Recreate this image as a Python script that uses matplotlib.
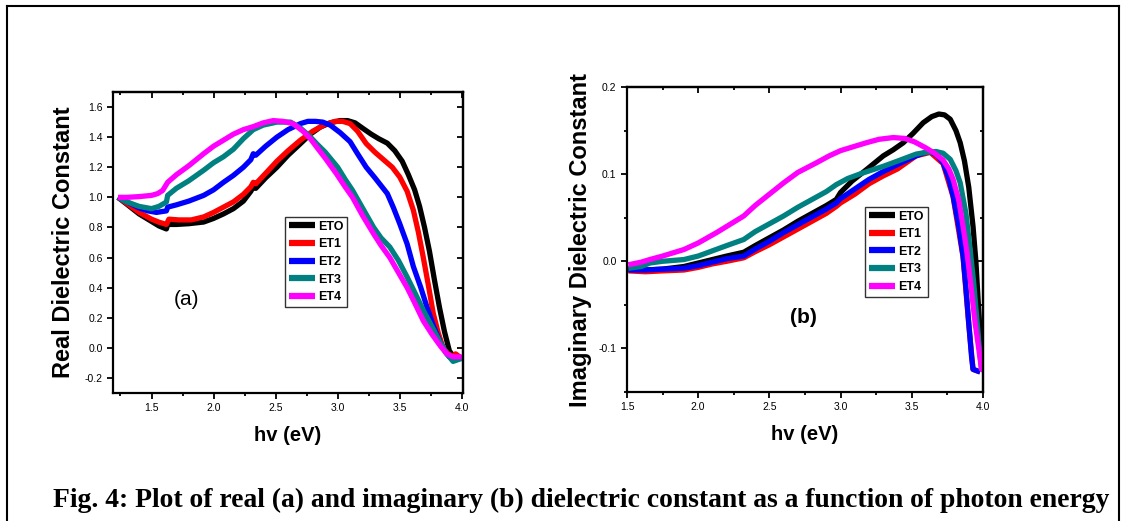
import matplotlib
matplotlib.use('Agg')
import matplotlib.pyplot as plt
from matplotlib.lines import Line2D
from matplotlib.ticker import MultipleLocator

plt.rcParams['font.family'] = ['Liberation Sans', 'DejaVu Sans']

# ---- Panel (a): real dielectric constant ----
eto_a_x = [1.23, 1.30, 1.40, 1.50, 1.56, 1.62, 1.63, 1.70, 1.80, 1.92, 2.00, 2.08, 2.16, 2.24, 2.30, 2.32, 2.34, 2.42, 2.51, 2.60, 2.70, 2.78, 2.86, 2.94, 3.02, 3.08, 3.14, 3.20, 3.27, 3.33, 3.40, 3.46, 3.52, 3.57, 3.62, 3.66, 3.70, 3.74, 3.78, 3.82, 3.86, 3.90, 3.945, 4.0]
eto_a_y = [1.00, 0.955, 0.89, 0.84, 0.81, 0.79, 0.82, 0.82, 0.825, 0.836, 0.86, 0.89, 0.925, 0.975, 1.04, 1.07, 1.06, 1.13, 1.20, 1.28, 1.357, 1.42, 1.467, 1.495, 1.51, 1.51, 1.495, 1.46, 1.42, 1.39, 1.36, 1.31, 1.24, 1.15, 1.05, 0.94, 0.80, 0.64, 0.45, 0.27, 0.11, -0.02, -0.07, -0.07]

et1_a_x = [1.23, 1.30, 1.40, 1.50, 1.56, 1.62, 1.64, 1.72, 1.82, 1.92, 2.00, 2.08, 2.16, 2.24, 2.30, 2.32, 2.34, 2.42, 2.51, 2.60, 2.70, 2.80, 2.90, 2.98, 3.04, 3.10, 3.16, 3.23, 3.30, 3.37, 3.44, 3.50, 3.56, 3.61, 3.65, 3.69, 3.73, 3.77, 3.81, 3.85, 3.89, 3.93, 3.95, 4.0]
et1_a_y = [1.00, 0.96, 0.90, 0.855, 0.835, 0.82, 0.855, 0.85, 0.85, 0.87, 0.90, 0.935, 0.97, 1.02, 1.07, 1.10, 1.09, 1.16, 1.24, 1.31, 1.38, 1.44, 1.485, 1.505, 1.505, 1.49, 1.44, 1.357, 1.30, 1.25, 1.20, 1.135, 1.04, 0.914, 0.77, 0.60, 0.42, 0.23, 0.10, 0.0, -0.04, -0.06, -0.04, -0.07]

et2_a_x = [1.23, 1.30, 1.40, 1.47, 1.54, 1.58, 1.62, 1.63, 1.70, 1.80, 1.92, 2.00, 2.08, 2.16, 2.24, 2.30, 2.32, 2.34, 2.42, 2.51, 2.60, 2.70, 2.76, 2.82, 2.88, 2.94, 3.02, 3.10, 3.16, 3.23, 3.30, 3.40, 3.45, 3.50, 3.56, 3.61, 3.67, 3.72, 3.77, 3.83, 3.87, 3.90, 3.95, 4.0]
et2_a_y = [1.00, 0.97, 0.93, 0.91, 0.90, 0.905, 0.91, 0.935, 0.95, 0.975, 1.013, 1.05, 1.10, 1.146, 1.20, 1.25, 1.29, 1.28, 1.34, 1.40, 1.45, 1.49, 1.505, 1.505, 1.50, 1.48, 1.43, 1.37, 1.29, 1.20, 1.13, 1.025, 0.93, 0.825, 0.69, 0.54, 0.40, 0.27, 0.15, 0.03, -0.03, -0.06, -0.07, -0.07]

et3_a_x = [1.23, 1.30, 1.40, 1.50, 1.56, 1.62, 1.63, 1.70, 1.80, 1.92, 2.00, 2.08, 2.16, 2.24, 2.32, 2.40, 2.51, 2.62, 2.70, 2.77, 2.83, 2.90, 3.00, 3.06, 3.12, 3.20, 3.29, 3.35, 3.42, 3.49, 3.56, 3.62, 3.69, 3.76, 3.83, 3.88, 3.93, 4.0]
et3_a_y = [1.00, 0.97, 0.94, 0.925, 0.94, 0.969, 1.013, 1.06, 1.11, 1.18, 1.23, 1.27, 1.32, 1.39, 1.45, 1.48, 1.50, 1.50, 1.46, 1.41, 1.357, 1.30, 1.20, 1.12, 1.046, 0.93, 0.80, 0.73, 0.67, 0.58, 0.47, 0.37, 0.25, 0.14, 0.03, -0.04, -0.09, -0.07]

et4_a_x = [1.23, 1.30, 1.40, 1.50, 1.55, 1.59, 1.63, 1.70, 1.80, 1.92, 2.00, 2.08, 2.16, 2.24, 2.32, 2.40, 2.48, 2.56, 2.64, 2.72, 2.78, 2.83, 2.90, 2.99, 3.06, 3.12, 3.20, 3.29, 3.35, 3.42, 3.49, 3.56, 3.62, 3.69, 3.76, 3.83, 3.88, 3.93, 4.0]
et4_a_y = [1.00, 1.00, 1.005, 1.013, 1.025, 1.046, 1.10, 1.15, 1.21, 1.29, 1.34, 1.38, 1.42, 1.45, 1.47, 1.495, 1.51, 1.505, 1.49, 1.44, 1.39, 1.335, 1.26, 1.157, 1.07, 1.00, 0.88, 0.757, 0.68, 0.60, 0.50, 0.40, 0.30, 0.18, 0.09, 0.01, -0.04, -0.06, -0.06]

# ---- Panel (b): imaginary dielectric constant ----
eto_b_x = [1.51, 1.63, 1.75, 1.90, 2.00, 2.10, 2.20, 2.32, 2.40, 2.50, 2.60, 2.70, 2.80, 2.90, 2.97, 3.00, 3.08, 3.18, 3.30, 3.37, 3.44, 3.51, 3.58, 3.64, 3.69, 3.73, 3.77, 3.81, 3.84, 3.87, 3.90, 3.93, 3.95, 3.967, 3.99, 4.0]
eto_b_y = [-0.0095, -0.010, -0.009, -0.006, -0.002, 0.002, 0.006, 0.0104, 0.018, 0.027, 0.036, 0.046, 0.055, 0.064, 0.071, 0.079, 0.092, 0.105, 0.121, 0.128, 0.136, 0.147, 0.159, 0.166, 0.169, 0.168, 0.163, 0.150, 0.136, 0.115, 0.085, 0.040, 0.0, -0.048, -0.109, -0.125]

et1_b_x = [1.51, 1.63, 1.75, 1.90, 2.00, 2.10, 2.20, 2.32, 2.40, 2.50, 2.60, 2.70, 2.80, 2.90, 2.97, 3.00, 3.10, 3.20, 3.30, 3.40, 3.53, 3.58, 3.63, 3.72, 3.79, 3.86, 3.90, 3.93, 3.98]
et1_b_y = [-0.011, -0.012, -0.011, -0.010, -0.007, -0.003, 0.0, 0.004, 0.011, 0.019, 0.028, 0.037, 0.046, 0.055, 0.063, 0.067, 0.077, 0.089, 0.098, 0.106, 0.121, 0.123, 0.125, 0.112, 0.074, 0.005, -0.072, -0.124, -0.127]

et2_b_x = [1.51, 1.63, 1.75, 1.90, 2.00, 2.10, 2.20, 2.32, 2.40, 2.50, 2.60, 2.70, 2.80, 2.90, 2.97, 3.00, 3.10, 3.20, 3.30, 3.40, 3.53, 3.58, 3.63, 3.68, 3.72, 3.76, 3.79, 3.83, 3.86, 3.88, 3.90, 3.92, 3.93, 3.98]
et2_b_y = [-0.010, -0.010, -0.009, -0.008, -0.005, -0.001, 0.003, 0.006, 0.014, 0.023, 0.033, 0.042, 0.051, 0.060, 0.067, 0.072, 0.083, 0.094, 0.103, 0.111, 0.121, 0.124, 0.126, 0.121, 0.113, 0.095, 0.075, 0.040, 0.006, -0.030, -0.071, -0.110, -0.124, -0.127]

et3_b_x = [1.51, 1.60, 1.66, 1.75, 1.90, 2.00, 2.10, 2.20, 2.32, 2.40, 2.50, 2.60, 2.70, 2.80, 2.90, 2.97, 3.05, 3.15, 3.30, 3.40, 3.53, 3.60, 3.67, 3.72, 3.77, 3.81, 3.84, 3.88, 3.91, 3.935, 3.955, 3.975, 3.99]
et3_b_y = [-0.008, -0.006, -0.002, 0.0, 0.002, 0.006, 0.012, 0.018, 0.025, 0.034, 0.043, 0.052, 0.062, 0.071, 0.080, 0.088, 0.095, 0.101, 0.109, 0.115, 0.123, 0.125, 0.126, 0.124, 0.117, 0.104, 0.090, 0.055, 0.013, -0.025, -0.063, -0.100, -0.125]

et4_b_x = [1.51, 1.60, 1.66, 1.75, 1.90, 2.00, 2.13, 2.22, 2.32, 2.40, 2.50, 2.60, 2.70, 2.83, 2.92, 3.00, 3.10, 3.18, 3.27, 3.37, 3.45, 3.52, 3.60, 3.66, 3.72, 3.76, 3.79, 3.83, 3.86, 3.885, 3.91, 3.945, 3.97, 3.99, 4.0]
et4_b_y = [-0.004, -0.001, 0.002, 0.006, 0.0135, 0.021, 0.033, 0.042, 0.052, 0.064, 0.077, 0.090, 0.102, 0.113, 0.121, 0.127, 0.132, 0.136, 0.140, 0.142, 0.141, 0.137, 0.130, 0.124, 0.116, 0.106, 0.094, 0.070, 0.040, 0.013, -0.020, -0.071, -0.100, -0.124, -0.125]

labels = ['ETO', 'ET1', 'ET2', 'ET3', 'ET4']
colors = ['black', '#ff0000', '#0000ff', '#008080', '#ff00ff']

series_a = [(eto_a_x, eto_a_y), (et1_a_x, et1_a_y), (et2_a_x, et2_a_y), (et3_a_x, et3_a_y), (et4_a_x, et4_a_y)]
series_b = [(eto_b_x, eto_b_y), (et1_b_x, et1_b_y), (et2_b_x, et2_b_y), (et3_b_x, et3_b_y), (et4_b_x, et4_b_y)]

fig = plt.figure(figsize=(11.26, 5.21), dpi=100)
axA = fig.add_axes([0.1004, 0.2457, 0.3108, 0.5777])
axB = fig.add_axes([0.5568, 0.2476, 0.3162, 0.5854])


def draw_panel(ax, series):
    for (xs, ys), lab, col in zip(series, labels, colors):
        ax.plot(xs, ys, color=col, lw=3.8, label=lab, solid_joinstyle='round', solid_capstyle='butt')
    leg = ax.legend(loc='upper left', borderaxespad=0, prop={'weight': 'bold', 'size': 9},
                    frameon=True, fancybox=False, handlelength=2.1, handletextpad=0.25,
                    labelspacing=0.45, borderpad=0.3)
    leg.get_frame().set_edgecolor('black')
    leg.get_frame().set_linewidth(1.0)
    for h in leg.get_lines():
        h.set_linewidth(4.5)
    return leg


# Plot panel (a):
legA = draw_panel(axA, series_a)
legA.set_bbox_to_anchor((0.491, 0.585), transform=axA.transAxes)
axA.set_xlim(1.19, 4.01)
axA.set_ylim(-0.3, 1.7)
axA.set_xticks([1.5, 2.0, 2.5, 3.0, 3.5, 4.0])
axA.xaxis.set_minor_locator(MultipleLocator(0.25))
axA.set_yticks([-0.2, 0.0, 0.2, 0.4, 0.6, 0.8, 1.0, 1.2, 1.4, 1.6])
axA.set_yticklabels(['-0.2', '0.0', '0.2', '0.4', '0.6', '0.8', '1.0', '1.2', '1.4', '1.6'])
axA.set_xlabel('hv (eV)', fontsize=14.5, fontweight='bold', labelpad=9)
axA.set_ylabel('Real Dielectric Constant', fontsize=17, fontweight='bold', labelpad=7)
axA.text(1.78, 0.32, '(a)', fontsize=15, ha='center', va='center')

# Plot panel (b):
legB = draw_panel(axB, series_b)
legB.set_bbox_to_anchor((0.669, 0.607), transform=axB.transAxes)
axB.set_xlim(1.5, 4.0)
axB.set_ylim(-0.15, 0.2)
axB.set_xticks([1.5, 2.0, 2.5, 3.0, 3.5, 4.0])
axB.xaxis.set_minor_locator(MultipleLocator(0.25))
axB.set_yticks([-0.1, 0.0, 0.1, 0.2])
axB.set_yticklabels(['-0.1', '0.0', '0.1', '0.2'])
axB.yaxis.set_minor_locator(MultipleLocator(0.05))
axB.set_xlabel('hv (eV)', fontsize=14.5, fontweight='bold', labelpad=9)
axB.set_ylabel('Imaginary Dielectric Constant', fontsize=17, fontweight='bold', labelpad=5)
axB.text(2.74, -0.064, '(b)', fontsize=15, fontweight='bold', ha='center', va='center')

# Settle tick styles (out on bottom/left, in on top/right):
for ax in (axA, axB):
    for sp in ax.spines.values():
        sp.set_linewidth(1.6)
    ax.tick_params(which='both', labelsize=7.5, width=1.3, direction='out')
    ax.tick_params(which='major', length=4)
    ax.tick_params(which='minor', length=2.5)
    top = ax.secondary_xaxis('top')
    top.set_xticks(ax.get_xticks())
    top.xaxis.set_minor_locator(MultipleLocator(0.25))
    top.tick_params(which='both', direction='in', labeltop=False, width=1.3)
    top.tick_params(which='major', length=4)
    top.tick_params(which='minor', length=2.5)
    top.spines['top'].set_linewidth(1.6)
    right = ax.secondary_yaxis('right')
    right.set_yticks(ax.get_yticks())
    if ax is axB:
        right.yaxis.set_minor_locator(MultipleLocator(0.05))
    right.tick_params(which='both', direction='in', labelright=False, width=1.3)
    right.tick_params(which='major', length=4)
    right.tick_params(which='minor', length=2.5)
    right.spines['right'].set_linewidth(1.6)

# Caption:
fig.text(0.516, 0.04, 'Fig. 4: Plot of real (a) and imaginary (b) dielectric constant as a function of photon energy',
         ha='center', va='center', fontsize=19.9, fontweight='bold', family=['Liberation Serif', 'DejaVu Serif'])

# Outer frame:
x0, x1, yt = 7 / 1126, 1119 / 1126, 1 - 6 / 521
for xs, ys in [([x0, x0], [0, yt]), ([x0, x1], [yt, yt]), ([x1, x1], [yt, 0])]:
    fig.add_artist(Line2D(xs, ys, color='black', lw=1.5, transform=fig.transFigure))

fig.savefig('out.png', dpi=100)
